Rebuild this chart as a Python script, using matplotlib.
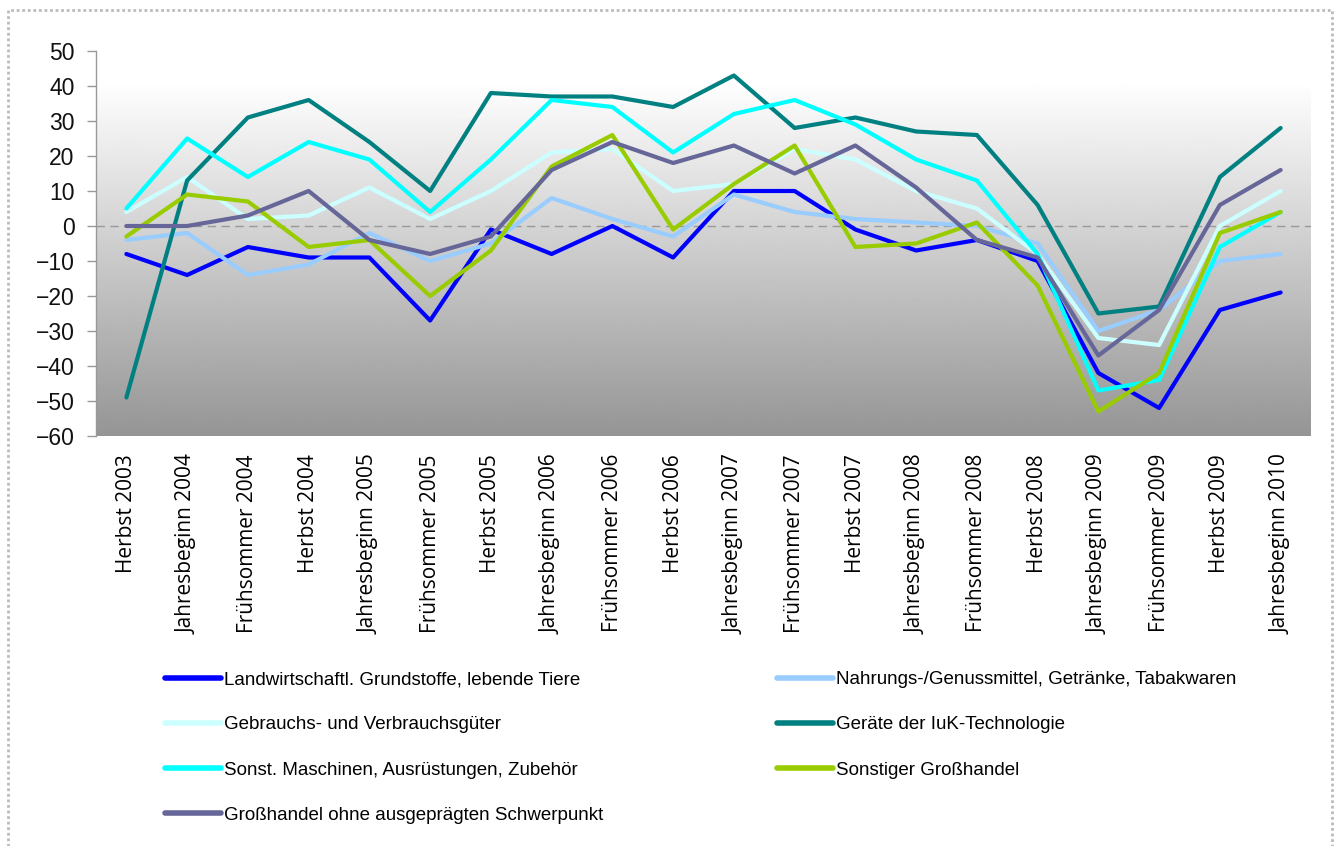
import numpy as np
import matplotlib
matplotlib.use("Agg")
import matplotlib.pyplot as plt
from matplotlib.patches import Rectangle

categories = [
    "Herbst 2003", "Jahresbeginn 2004", "Frühsommer 2004", "Herbst 2004",
    "Jahresbeginn 2005", "Frühsommer 2005", "Herbst 2005", "Jahresbeginn 2006",
    "Frühsommer 2006", "Herbst 2006", "Jahresbeginn 2007", "Frühsommer 2007",
    "Herbst 2007", "Jahresbeginn 2008", "Frühsommer 2008", "Herbst 2008",
    "Jahresbeginn 2009", "Frühsommer 2009", "Herbst 2009", "Jahresbeginn 2010",
]

landwirtschaft = [-8, -14, -6, -9, -9, -27, -1, -8, 0, -9, 10, 10, -1, -7, -4, -10, -42, -52, -24, -19]
nahrungsmittel = [-4, -2, -14, -11, -2, -10, -5, 8, 2, -3, 9, 4, 2, 1, 0, -5, -30, -24, -10, -8]
gebrauchsgueter = [4, 14, 2, 3, 11, 2, 10, 21, 22, 10, 12, 22, 19, 10, 5, -8, -32, -34, 0, 10]
iuk_geraete = [-49, 13, 31, 36, 24, 10, 38, 37, 37, 34, 43, 28, 31, 27, 26, 6, -25, -23, 14, 28]
maschinen = [5, 25, 14, 24, 19, 4, 19, 36, 34, 21, 32, 36, 29, 19, 13, -8, -47, -44, -6, 4]
sonstiger = [-3, 9, 7, -6, -4, -20, -7, 17, 26, -1, 12, 23, -6, -5, 1, -17, -53, -42, -2, 4]
ohne_schwerpunkt = [0, 0, 3, 10, -4, -8, -3, 16, 24, 18, 23, 15, 23, 11, -4, -9, -37, -24, 6, 16]

series = [
    ("Landwirtschaftl. Grundstoffe, lebende Tiere", landwirtschaft, "#0000FF"),
    ("Nahrungs-/Genussmittel, Getränke, Tabakwaren", nahrungsmittel, "#99CCFF"),
    ("Gebrauchs- und Verbrauchsgüter", gebrauchsgueter, "#CCFFFF"),
    ("Geräte der IuK-Technologie", iuk_geraete, "#008080"),
    ("Sonst. Maschinen, Ausrüstungen, Zubehör", maschinen, "#00FFFF"),
    ("Sonstiger Großhandel", sonstiger, "#99CC00"),
    ("Großhandel ohne ausgeprägten Schwerpunkt", ohne_schwerpunkt, "#666699"),
]

fig = plt.figure(figsize=(13.38, 8.46), dpi=100)
ax = fig.add_axes([96 / 1338, 1 - 436 / 846, (1311 - 96) / 1338, (436 - 51) / 846])

x = np.arange(len(categories))
ax.set_xlim(-0.5, len(categories) - 0.5)
ax.set_ylim(-60, 50)

# Hintergrund-Verlauf (oben weiss, unten grau)
grad = np.concatenate([np.ones(20), np.linspace(1.0, 0.585, 236)]).reshape(-1, 1)
ax.imshow(grad, cmap="gray", vmin=0, vmax=1, aspect="auto",
          extent=(-0.5, len(categories) - 0.5, -60, 50), zorder=0)

ax.axhline(0, color="#999999", lw=1, ls=(0, (6, 4)), zorder=1)

handles = []
for name, vals, col in series:
    h, = ax.plot(x, vals, color=col, lw=3, label=name, zorder=2, solid_capstyle="round")
    handles.append(h)

for s in ["top", "right", "bottom"]:
    ax.spines[s].set_visible(False)
ax.spines["left"].set_color("#999999")
ax.spines["left"].set_linewidth(1)

ax.set_yticks(range(-60, 51, 10))
ax.tick_params(axis="y", length=6.5, width=1, color="#999999", pad=9,
               labelsize=16.5, labelcolor="#111111")
for lab in ax.get_yticklabels():
    lab.set_family("Liberation Sans")
ax.set_xticks(x)
ax.set_xticklabels(categories, rotation=90, fontsize=15, family="Open Sans", va="top")
ax.tick_params(axis="x", length=0, pad=13)

leg_kw = dict(frameon=False, handlelength=3.0, handletextpad=0.15,
              labelspacing=1.5, borderaxespad=0, borderpad=0,
              prop={"family": "Liberation Sans", "size": 13.5})
left = [handles[i] for i in (0, 2, 4, 6)]
right = [handles[i] for i in (1, 3, 5)]
l1 = fig.legend(left, [h.get_label() for h in left], loc="upper left",
                bbox_to_anchor=(165 / 1338, 1 - 671 / 846), **leg_kw)
l2 = fig.legend(right, [h.get_label() for h in right], loc="upper left",
                bbox_to_anchor=(777 / 1338, 1 - 671 / 846), **leg_kw)
for lg in (l1, l2):
    for ln in lg.get_lines():
        ln.set_linewidth(4)

# gepunkteter Rahmen
fig.patches.append(Rectangle((8 / 1338, -0.05), (1332 - 8) / 1338, 1 - 10 / 846 + 0.05,
                             transform=fig.transFigure, fill=False, ec="#BBBBBB",
                             lw=2, ls=(0, (1, 1))))

fig.savefig("out.png", dpi=100)
